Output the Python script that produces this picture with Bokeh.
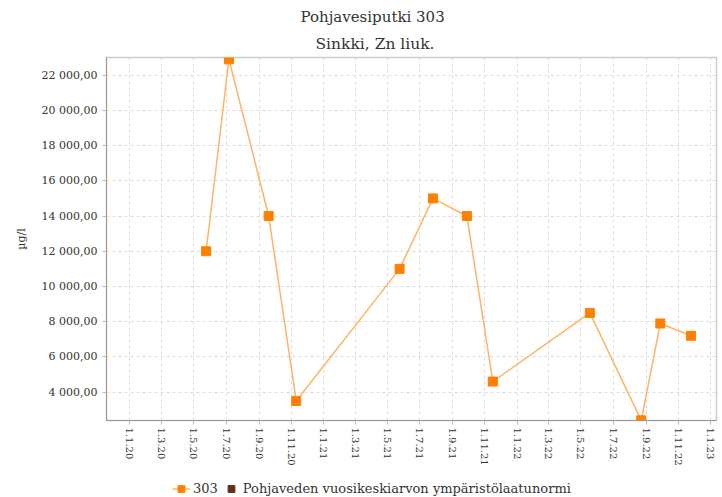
import pandas as pd
from bokeh.plotting import figure
from bokeh.layouts import column
from bokeh.models import ColumnDataSource, FixedTicker, Title, Legend, LegendItem, Range1d
from bokeh.embed import file_html
from bokeh.resources import INLINE

# ---- data ----
dates = ["2020-05-24", "2020-07-06", "2020-09-19", "2020-11-10",
         "2021-05-24", "2021-07-26", "2021-09-28", "2021-11-16",
         "2022-05-18", "2022-08-23", "2022-09-28", "2022-11-25"]
values = [12000, 22900, 14000, 3500, 11000, 15000, 14000, 4600, 8500, 2400, 7900, 7200]

x_tick_dates = ["2020-01-01", "2020-03-01", "2020-05-01", "2020-07-01", "2020-09-01", "2020-11-01",
                "2021-01-01", "2021-03-01", "2021-05-01", "2021-07-01", "2021-09-01", "2021-11-01",
                "2022-01-01", "2022-03-01", "2022-05-01", "2022-07-01", "2022-09-01", "2022-11-01",
                "2023-01-01"]
x_tick_labels = ["1.1.20", "1.3.20", "1.5.20", "1.7.20", "1.9.20", "1.11.20",
                 "1.1.21", "1.3.21", "1.5.21", "1.7.21", "1.9.21", "1.11.21",
                 "1.1.22", "1.3.22", "1.5.22", "1.7.22", "1.9.22", "1.11.22",
                 "1.1.23"]
y_ticks = [4000, 6000, 8000, 10000, 12000, 14000, 16000, 18000, 20000, 22000]
y_tick_labels = ["4 000,00", "6 000,00", "8 000,00", "10 000,00", "12 000,00",
                 "14 000,00", "16 000,00", "18 000,00", "20 000,00", "22 000,00"]
x_start, x_end = "2019-11-18", "2023-01-12"
y_start, y_end = 2390, 23000

series_name = "303"
norm_name = "Pohjaveden vuosikeskiarvon ympäristölaatunormi"
title_main = "Pohjavesiputki 303"
title_sub = "Sinkki, Zn liuk."
y_label = "µg/l"


def ms(d):
    return float(pd.Timestamp(d).value // 10**6)


x = [ms(d) for d in dates]
x_ticks = [ms(d) for d in x_tick_dates]

FONT = "DejaVu Serif"
TXT = "#333333"
LINE_C = "#ffb366"
PT_C = "#ff8000"
NORM_C = "#5c3317"

p = figure(frame_width=610, frame_height=363, output_backend="svg", toolbar_location=None,
           x_range=Range1d(ms(x_start), ms(x_end)), y_range=Range1d(y_start, y_end),
           min_border_left=106, min_border_top=57, min_border_right=6, min_border_bottom=60)

p.title.text = title_main
p.title.align = "left"
p.title.offset = 194
p.title.standoff = 4
p.title.text_font = FONT
p.title.text_font_size = "15px"
p.title.text_font_style = "normal"
p.title.text_color = TXT
p.add_layout(Title(text=title_sub, align="left", offset=209, standoff=10, text_font=FONT,
                   text_font_size="15.5px", text_font_style="normal", text_color=TXT), "above")

src = ColumnDataSource(dict(x=x, y=values))
p.line("x", "y", source=src, line_color=LINE_C, line_width=1.5)
p.scatter("x", "y", source=src, marker="square", size=9, color=PT_C)

# axes
p.xaxis.ticker = FixedTicker(ticks=x_ticks)
p.xaxis.major_label_overrides = {t: l for t, l in zip(x_ticks, x_tick_labels)}
p.xaxis.major_label_orientation = "vertical"
p.xaxis.major_label_standoff = 3
p.yaxis.ticker = FixedTicker(ticks=y_ticks)
p.yaxis.major_label_overrides = {t: l for t, l in zip(y_ticks, y_tick_labels)}
p.yaxis.axis_label = y_label
for ax in (p.xaxis[0], p.yaxis[0]):
    ax.major_label_text_font = FONT
    ax.major_label_text_color = TXT
    ax.axis_label_text_font = FONT
    ax.axis_label_text_font_style = "normal"
    ax.axis_label_text_font_size = "11px"
    ax.axis_label_text_color = TXT
    ax.axis_line_color = "#999999"
    ax.major_tick_line_color = "#bbbbbb"
    ax.major_tick_in = 0
    ax.major_tick_out = 4
    ax.minor_tick_line_color = None
p.xaxis.major_label_text_font_size = "10px"
p.yaxis.major_label_text_font_size = "11px"
p.yaxis.axis_label_standoff = 11

p.xgrid.ticker = FixedTicker(ticks=x_ticks)
p.ygrid.ticker = FixedTicker(ticks=y_ticks)
for g in (p.xgrid[0], p.ygrid[0]):
    g.grid_line_color = "#dddddd"
    g.grid_line_dash = "3 3"
    g.grid_line_width = 1

p.outline_line_color = "#cccccc"
p.outline_line_width = 1.5

# ---- legend strip below the chart ----
lf = figure(width=722, height=17, output_backend="svg", toolbar_location=None,
            x_axis_location=None, y_axis_location=None,
            min_border_left=0, min_border_right=0, min_border_top=0, min_border_bottom=0,
            x_range=Range1d(0, 1), y_range=Range1d(0, 1))
lf.grid.visible = False
lf.outline_line_color = None
nan_src = ColumnDataSource(dict(x=[float("nan")], y=[float("nan")]))
l_line = lf.line("x", "y", source=nan_src, line_color=LINE_C, line_width=1.5)
l_pts = lf.scatter("x", "y", source=nan_src, marker="square", color=PT_C)
l_norm = lf.scatter("x", "y", source=nan_src, marker="square", color=NORM_C)
legend = Legend(items=[LegendItem(label=series_name, renderers=[l_line, l_pts]),
                       LegendItem(label=norm_name, renderers=[l_norm])],
                orientation="horizontal", location=(66, 0),
                label_text_font=FONT, label_text_font_size="13px", label_text_color=TXT,
                border_line_color=None, background_fill_alpha=0,
                glyph_width=18, glyph_height=17, label_height=17, label_standoff=3, spacing=4,
                padding=0, margin=0)
lf.add_layout(legend, "center")

open("out.html", "w").write(file_html(column(p, lf), INLINE))
